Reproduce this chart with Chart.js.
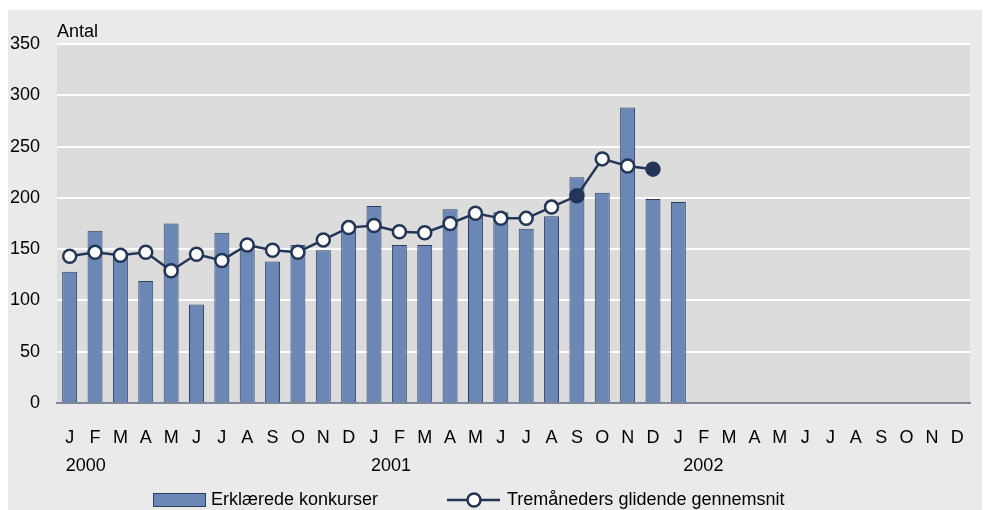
<!DOCTYPE html>
<html>
<head>
<meta charset="utf-8">
<script src="https://cdn.jsdelivr.net/npm/chart.js@4/dist/chart.umd.min.js"></script>
<style>
  html, body { margin: 0; padding: 0; background: #ffffff; }
  #wrap { width: 983px; height: 510px; }
</style>
</head>
<body>
<div id="wrap"><canvas id="c" width="983" height="510"></canvas></div>
<script>
const months = ['J','F','M','A','M','J','J','A','S','O','N','D',
                'J','F','M','A','M','J','J','A','S','O','N','D',
                'J','F','M','A','M','J','J','A','S','O','N','D'];
const yearLabels = ['2000', '2001', '2002'];
const yearIndex = [0, 12, 24];
const declared = [128,168,147,119,175,96,166,155,138,154,149,171,
                  192,154,154,189,183,186,170,182,220,205,288,199,196];
const movingAvg = [143,147,144,147,129,145,139,154,149,147,159,171,
                   173,167,166,175,185,180,180,191,202,238,231,228];
const filledPoints = [20, 23];
const yTicks = [0, 50, 100, 150, 200, 250, 300, 350];
const seriesNames = ['Erklærede konkurser', 'Tremåneders glidende gennemsnit'];
const yTitle = 'Antal';

const FONT = "'Liberation Sans', Arial, sans-serif";
const BAR = '#6a87b6';
const BAR_BORDER = '#2d3f60';
const LINE = '#243657';

const pointFill = movingAvg.map((v, i) => filledPoints.includes(i) ? LINE : '#ffffff');

const decor = {
  id: 'decor',
  beforeDraw(chart) {
    const ctx = chart.ctx;
    const a = chart.chartArea;
    ctx.save();
    ctx.fillStyle = '#ffffff';
    ctx.fillRect(0, 0, chart.width, chart.height);
    ctx.fillStyle = '#eaeaea';
    ctx.fillRect(8, 10, 974, 500);
    ctx.fillStyle = '#dcdcdc';
    ctx.fillRect(a.left, a.top, a.right - a.left, a.bottom - a.top);
    ctx.restore();
  },
  afterDraw(chart) {
    const ctx = chart.ctx;
    const a = chart.chartArea;
    const xs = chart.scales.x;
    ctx.save();
    ctx.fillStyle = '#000000';
    ctx.font = '18px ' + FONT;
    ctx.textAlign = 'left';
    ctx.textBaseline = 'alphabetic';
    ctx.fillText(yTitle, a.left, 37);
    const offs = [-4, -3, 5];
    ctx.textBaseline = 'middle';
    yearLabels.forEach((t, k) => {
      ctx.fillText(t, xs.getPixelForValue(yearIndex[k]) + offs[k], 466);
    });
    const ly = 500;
    ctx.fillStyle = BAR;
    ctx.fillRect(153, 493, 53, 14);
    ctx.strokeStyle = BAR_BORDER;
    ctx.lineWidth = 1;
    ctx.strokeRect(153.5, 493.5, 52, 13);
    ctx.fillStyle = '#000000';
    ctx.fillText(seriesNames[0], 211, ly);
    ctx.strokeStyle = LINE;
    ctx.lineWidth = 2.5;
    ctx.beginPath();
    ctx.moveTo(447, ly);
    ctx.lineTo(500, ly);
    ctx.stroke();
    ctx.beginPath();
    ctx.arc(474, ly, 6.5, 0, Math.PI * 2);
    ctx.fillStyle = '#ffffff';
    ctx.fill();
    ctx.stroke();
    ctx.fillStyle = '#000000';
    ctx.fillText(seriesNames[1], 507, ly);
    ctx.restore();
  }
};

new Chart(document.getElementById('c'), {
  type: 'bar',
  data: {
    labels: months,
    datasets: [
      {
        type: 'line',
        label: seriesNames[1],
        data: movingAvg,
        borderColor: LINE,
        borderWidth: 2.5,
        pointRadius: 6.5,
        pointHoverRadius: 6.5,
        pointBorderWidth: 2.5,
        pointBackgroundColor: pointFill,
        pointBorderColor: LINE,
        tension: 0,
        fill: false,
        order: 0
      },
      {
        type: 'bar',
        label: seriesNames[0],
        data: declared,
        backgroundColor: BAR,
        borderColor: BAR_BORDER,
        borderWidth: 1,
        categoryPercentage: 1,
        barPercentage: 0.59,
        order: 1
      }
    ]
  },
  options: {
    responsive: false,
    animation: false,
    devicePixelRatio: 1,
    layout: { padding: { left: 0, top: 44, right: 13, bottom: 0 } },
    plugins: { legend: { display: false }, tooltip: { enabled: false } },
    scales: {
      x: {
        offset: true,
        grid: { display: false, drawTicks: false },
        border: { display: true, color: '#7f8898', width: 2 },
        ticks: {
          autoSkip: false, maxRotation: 0, minRotation: 0,
          color: '#000000', font: { family: FONT, size: 18 }, padding: 24
        },
        afterFit(s) { s.height = 107; s.paddingLeft = 0; s.paddingRight = 0; }
      },
      y: {
        min: 0, max: 350,
        afterBuildTicks(s) { s.ticks = yTicks.map(v => ({ value: v })); },
        grid: {
          drawTicks: false, lineWidth: 2,
          color: (c) => (c.tick && c.tick.value === 0) ? 'rgba(0,0,0,0)' : '#ffffff'
        },
        border: { display: false },
        ticks: { color: '#000000', font: { family: FONT, size: 18 }, padding: 17 },
        afterFit(s) { s.width = 57; s.paddingTop = 0; s.paddingBottom = 0; }
      }
    }
  },
  plugins: [decor]
});
</script>
</body>
</html>
